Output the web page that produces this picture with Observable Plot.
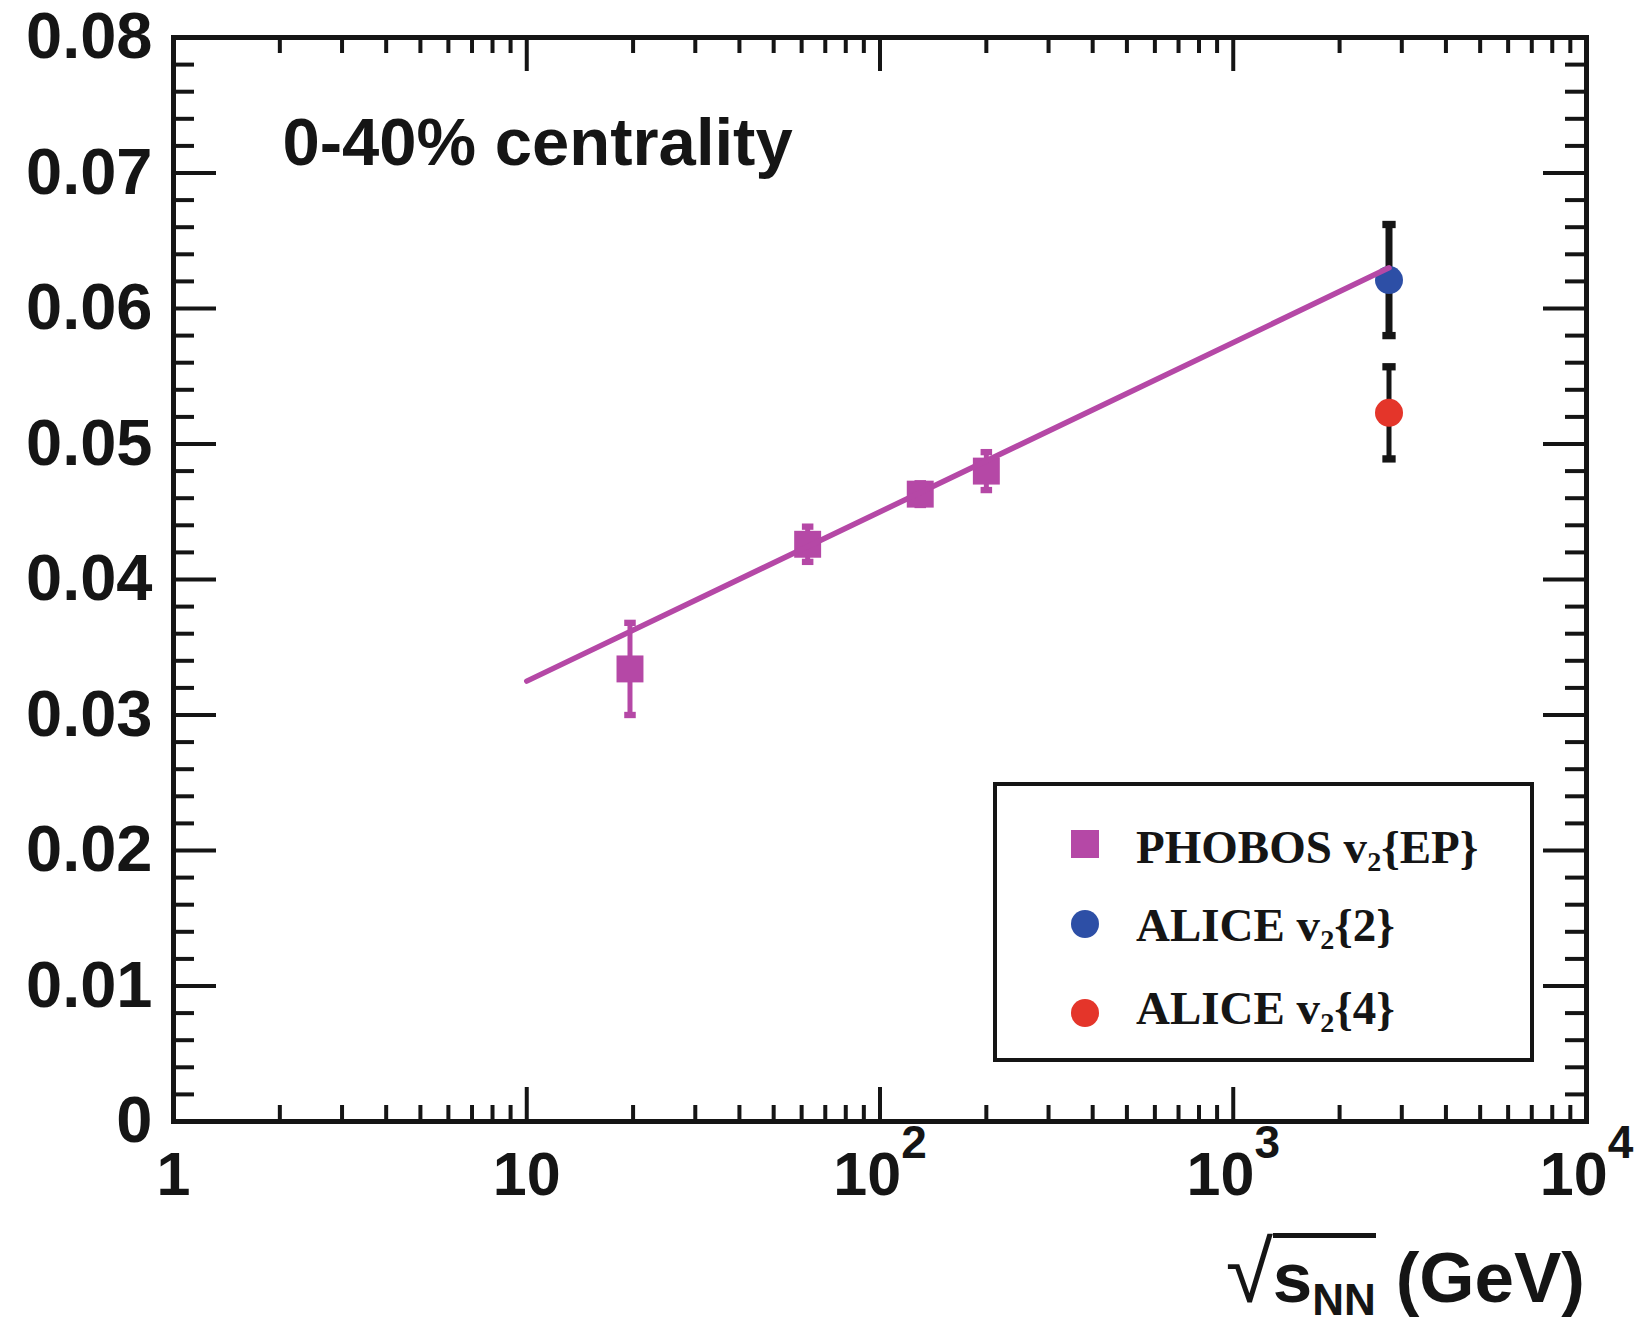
<!DOCTYPE html>
<html><head><meta charset="utf-8">
<script src="https://cdn.jsdelivr.net/npm/d3@7"></script>
<script src="https://cdn.jsdelivr.net/npm/@observablehq/plot@0.6"></script>
<style>
html,body{margin:0;padding:0;background:#fff;}
#wrap{position:relative;width:1640px;height:1319px;overflow:hidden;background:#fff;}
#wrap svg{position:absolute;left:0;top:0;}
.legend{position:absolute;left:993px;top:782px;width:533px;height:272px;border:4px solid #151515;background:#fff;box-sizing:content-box;}
.legend .mk{position:absolute;left:74px;width:28px;height:28px;}
.legend .lab{position:absolute;left:139px;font:bold 47px 'Liberation Serif','Times New Roman',serif;color:#151515;line-height:1.2;white-space:nowrap;}
.legend sub{font-size:0.6em;vertical-align:-0.28em;line-height:1;}
#xlabel{position:absolute;right:55px;top:1212px;font:bold 71px 'Liberation Sans',Arial,sans-serif;color:#151515;line-height:1.4;white-space:nowrap;}
#xlabel .rad{font-size:86px;font-weight:normal;}
#xlabel .ov{border-top:5px solid #151515;}
#xlabel sub{font-size:0.62em;vertical-align:-0.3em;line-height:1;}
</style></head>
<body><div id="wrap"></div>
<script>
// ---- data ----
const phobosEnergy = [19.6, 62.4, 130, 200];           // sqrt(sNN) GeV
const phobosV2     = [0.0334, 0.0426, 0.0463, 0.0480];
const phobosErr    = [0.0034, 0.0013, 0.0008, 0.0014];

const aliceEnergy  = [2760, 2760];
const aliceV2      = [0.0621, 0.0523];
const aliceErr     = [0.0041, 0.0034];
const aliceSeries  = ["v2{2}", "v2{4}"];

const fitEnergy    = [10, 2760];
const fitV2        = [0.0325, 0.0630];

const yTickValues  = [0, 0.01, 0.02, 0.03, 0.04, 0.05, 0.06, 0.07, 0.08];
const yTickLabels  = ["0", "0.01", "0.02", "0.03", "0.04", "0.05", "0.06", "0.07", "0.08"];
const xTickValues  = [1, 10, 100, 1000, 10000];
const xTickLabels  = ["1", "10", "10^2", "10^3", "10^4"];

const titleText    = "0-40% centrality";
const legendNames  = ["PHOBOS", "ALICE", "ALICE"];
const legendMethod = ["EP", "2", "4"];

// ---- styling ----
const cPhobos = "#b548a6";
const cBlue   = "#2d4fa6";
const cRed    = "#e4352a";
const cInk    = "#151515";

const W = 1640, H = 1319, mL = 173, mR = 54, mT = 37, mB = 198;
const iW = W - mL - mR, iH = H - mT - mB;

const phobos = phobosEnergy.map((e, i) => ({e, v: phobosV2[i], lo: phobosV2[i] - phobosErr[i], hi: phobosV2[i] + phobosErr[i]}));
const alice = aliceEnergy.map((e, i) => ({e, v: aliceV2[i], lo: aliceV2[i] - aliceErr[i], hi: aliceV2[i] + aliceErr[i], s: aliceSeries[i]}));
const fit = fitEnergy.map((e, i) => ({e, v: fitV2[i]}));

// axis tick positions (ROOT style inner ticks)
const yMinor = d3.range(0, 41).map(k => k * 0.002).filter((d, k) => k % 5 !== 0);
const xMinor = [];
for (const dec of [1, 10, 100, 1000]) for (let k = 2; k <= 9; k++) xMinor.push(k * dec);

// small rectangular error-bar caps
const capSymbol = {draw(ctx, size) { const w = Math.sqrt(size); const h = w * 0.55;
  ctx.moveTo(-w/2, -h/2); ctx.lineTo(w/2, -h/2); ctx.lineTo(w/2, h/2); ctx.lineTo(-w/2, h/2); ctx.closePath(); }};
const capsOf = arr => arr.flatMap(d => [{e: d.e, y: d.lo, s: d.s}, {e: d.e, y: d.hi, s: d.s}]);

const font = "'Liberation Sans', Arial, Helvetica, sans-serif";

const plot = Plot.plot({
  width: W, height: H,
  marginLeft: mL, marginRight: mR, marginTop: mT, marginBottom: mB,
  x: {type: "log", domain: [1, 10000]},
  y: {domain: [0, 0.08]},
  style: {fontFamily: font, color: cInk, background: "transparent", overflow: "visible"},
  marks: [
    // inner ticks: left / right
    Plot.tickY(yTickValues, {y: d => d, insetRight: iW - 43, stroke: cInk, strokeWidth: 4}),
    Plot.tickY(yMinor, {y: d => d, insetRight: iW - 21, stroke: cInk, strokeWidth: 4}),
    Plot.tickY(yTickValues, {y: d => d, insetLeft: iW - 43, stroke: cInk, strokeWidth: 4}),
    Plot.tickY(yMinor, {y: d => d, insetLeft: iW - 21, stroke: cInk, strokeWidth: 4}),
    // inner ticks: bottom / top
    Plot.tickX(xTickValues, {x: d => d, insetTop: iH - 34, stroke: cInk, strokeWidth: 4}),
    Plot.tickX(xMinor, {x: d => d, insetTop: iH - 16, stroke: cInk, strokeWidth: 4}),
    Plot.tickX(xTickValues, {x: d => d, insetBottom: iH - 34, stroke: cInk, strokeWidth: 4}),
    Plot.tickX(xMinor, {x: d => d, insetBottom: iH - 16, stroke: cInk, strokeWidth: 4}),
    Plot.frame({stroke: cInk, strokeWidth: 5}),
    Plot.axisY({ticks: yTickValues, tickFormat: d => yTickLabels[yTickValues.indexOf(d)], tickSize: 0, tickPadding: 21,
      fontSize: 65, fontWeight: "bold", fill: cInk, label: null}),
    Plot.axisX({ticks: xTickValues, tickFormat: d => xTickLabels[xTickValues.indexOf(d)], tickSize: 0, tickPadding: 30,
      fontSize: 61, fontWeight: "bold", fill: cInk, label: null}),
    Plot.text([titleText], {text: d => d, frameAnchor: "top-left", dx: 109, dy: 80, textAnchor: "start", lineAnchor: "top",
      fontSize: 67, fontWeight: "bold", fill: cInk}),
    // ALICE error bars and points
    Plot.ruleX(alice, {x: "e", y1: "lo", y2: "hi", stroke: cInk, strokeWidth: d => d.s === "v2{2}" ? 7 : 5}),
    Plot.dot(capsOf(alice), {x: "e", y: "y", symbol: capSymbol, r: 7.5, fill: cInk}),
    Plot.dot(alice, {x: "e", y: "v", symbol: "circle", r: 14, fill: d => d.s === "v2{2}" ? cBlue : cRed}),
    // PHOBOS error bars and points
    Plot.ruleX(phobos, {x: "e", y1: "lo", y2: "hi", stroke: cPhobos, strokeWidth: 5}),
    Plot.dot(capsOf(phobos), {x: "e", y: "y", symbol: capSymbol, r: 6.5, fill: cPhobos}),
    Plot.dot(phobos, {x: "e", y: "v", symbol: "square", r: 15.2, fill: cPhobos}),
    // fit line
    Plot.line(fit, {x: "e", y: "v", stroke: cPhobos, strokeWidth: 5.5})
  ]
});

// superscripts on the decade labels
d3.select(plot).selectAll("g[aria-label='x-axis tick label'] text").each(function() {
  const t = this.textContent;
  if (t.includes("^")) {
    const [b, s] = t.split("^");
    this.textContent = b;
    d3.select(this).append("tspan").attr("dy", "-0.8em").attr("font-size", 46).text(s);
  }
});

const wrap = document.getElementById("wrap");
wrap.appendChild(plot);

// legend (inside the frame, as in the original)
const leg = document.createElement("div");
leg.className = "legend";
const rowMarkerTop = [44, 124, 213];
const rowTextTop = [33, 111, 194];
const legendColors = [cPhobos, cBlue, cRed];
legendNames.forEach((n, i) => {
  const mk = document.createElement("div");
  mk.className = "mk";
  mk.style.top = rowMarkerTop[i] + "px";
  mk.style.background = legendColors[i];
  if (i > 0) mk.style.borderRadius = "50%";
  leg.appendChild(mk);
  const lab = document.createElement("div");
  lab.className = "lab";
  lab.style.top = rowTextTop[i] + "px";
  lab.innerHTML = `${n} v<sub>2</sub>{${legendMethod[i]}}`;
  leg.appendChild(lab);
});
wrap.appendChild(leg);

// x-axis title
const xl = document.createElement("div");
xl.id = "xlabel";
xl.innerHTML = `<span class="rad">√</span><span class="ov">s<sub>NN</sub></span> (GeV)`;
wrap.appendChild(xl);
</script>
</body></html>
